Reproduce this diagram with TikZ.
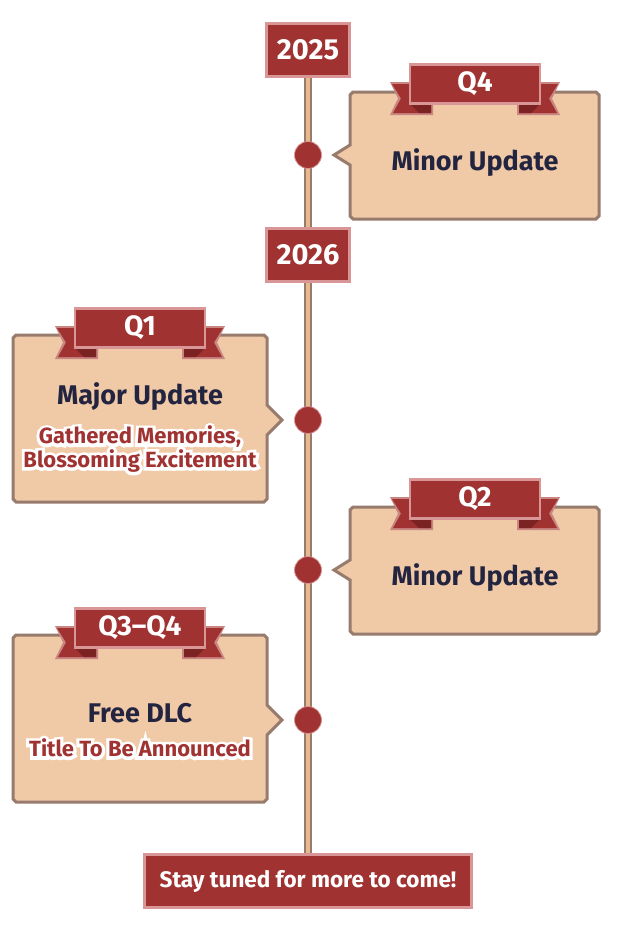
\documentclass[tikz,border=0pt]{standalone}
\usepackage{fontspec}
\setmainfont{Fira Sans}
\newfontfamily\halofont{Fira Sans}[FakeBold=28]
\usetikzlibrary{backgrounds}
\definecolor{dred}{HTML}{A03232}
\definecolor{pinkb}{HTML}{D89696}
\definecolor{tailb}{HTML}{C98580}
\definecolor{foldc}{HTML}{7B2222}
\definecolor{peach}{HTML}{F0C9A7}
\definecolor{brownl}{HTML}{977B6D}
\definecolor{navy}{HTML}{232540}
\definecolor{tanl}{HTML}{E8B98C}
\newsavebox\redbox
\newcommand\halotext[1]{\sbox\redbox{\textcolor{dred}{#1}}\makebox[0pt][l]{\makebox[\wd\redbox][c]{\halofont\bfseries\textcolor{white}{#1}}}\usebox\redbox}
\tikzset{
  yearbox/.style={fill=dred, draw=pinkb, line width=3pt, minimum width=83pt, minimum height=53pt, inner sep=0pt, text=white, font=\bfseries\fontsize{29}{32}\selectfont},
  dotnode/.style={circle, fill=dred, draw=pinkb, line width=0.8pt, minimum size=27pt, inner sep=0pt},
  cardline/.style={fill=peach, draw=brownl, line width=3pt},
  title/.style={text=navy, font=\bfseries\fontsize{27}{30}\selectfont, inner sep=0pt},
  subtitle/.style={font=\bfseries\fontsize{22}{24}\selectfont, inner sep=0pt},
  bantext/.style={text=white, font=\bfseries\fontsize{28}{30}\selectfont, inner sep=0pt},
  banner/.pic={
    \fill[tailb] (-85,-2) -- (-42,-2) -- (-42,31) -- (-85,31) -- (-77,14.5) -- cycle;
    \fill[dred] (-83,0) -- (-44,0) -- (-44,29) -- (-82,29) -- (-74,14.5) -- cycle;
    \fill[foldc] (-66,19) -- (-44,19) -- (-44,29) -- (-56,29) -- cycle;
    \fill[tailb] (85,-2) -- (42,-2) -- (42,31) -- (85,31) -- (77,14.5) -- cycle;
    \fill[dred] (83,0) -- (44,0) -- (44,29) -- (82,29) -- (74,14.5) -- cycle;
    \fill[foldc] (66,19) -- (44,19) -- (44,29) -- (56,29) -- cycle;
    \fill[pinkb] (-66,-21) rectangle (66,21);
    \fill[dred] (-64,-18) rectangle (64,18);
  },
  rcard/.pic={
    \path[cardline] (45,-63) -- (288,-63) -- (291,-60) -- (291,61) -- (288,64) -- (45,64) -- (42,61)
      -- (42,10) -- (26,0) -- (42,-10) -- (42,-60) -- cycle;
  },
  lcard/.pic={
    \path[cardline] (-292,-85) -- (-44,-85) -- (-41,-82) -- (-41,-15) -- (-26,0) -- (-41,15)
      -- (-41,79) -- (-44,82) -- (-292,82) -- (-295,79) -- (-295,-82) -- cycle;
  }
}
\begin{document}
\begin{tikzpicture}[x=1pt,y=-1pt]
\useasboundingbox (0,0) rectangle (616,934);

% year boxes and end box
\node[yearbox] (y2025) at (308,50) {2025};
\node[yearbox] (y2026) at (308,255) {2026};
\node[yearbox, minimum width=327pt, font=\bfseries\fontsize{22.5}{24}\selectfont] (stay) at (308,881) {Stay tuned for more to come!};

% timeline
\begin{scope}[on background layer]
  \draw[brownl, line width=8pt] (y2025.south) -- (stay.north);
  \draw[tanl, line width=3.5pt] (y2025.south) -- (stay.north);
\end{scope}

% Q4 2025
\pic at (308,155) {rcard};
\node[dotnode] (d1) at (308,155) {};
\pic at (475,84) {banner};
\node[bantext] (b1) at (475,84) {Q4};
\node[title] (t1) at (475,163) {Minor Update};

% Q1 2026
\pic at (308,420) {lcard};
\node[dotnode] (d2) at (308,420) {};
\pic at (140,328) {banner};
\node[bantext] (b2) at (140,328) {Q1};
\node[title] (t2) at (140,397) {Major Update};
\node[subtitle] (s2a) at (140,437) {\halotext{Gathered Memories,}};
\node[subtitle] (s2b) at (140,461) {\halotext{Blossoming Excitement}};

% Q2 2026
\pic at (308,570) {rcard};
\node[dotnode] (d3) at (308,570) {};
\pic at (475,499) {banner};
\node[bantext] (b3) at (475,499) {Q2};
\node[title] (t3) at (475,578) {Minor Update};

% Q3-Q4 2026
\pic at (308,720) {lcard};
\node[dotnode] (d4) at (308,720) {};
\pic at (140,628) {banner};
\node[bantext] (b4) at (140,628) {Q3–Q4};
\node[title] (t4) at (140,713) {Free DLC};
\node[subtitle] (s4) at (140,748) {\halotext{Title To Be Announced}};
\end{tikzpicture}
\end{document}
